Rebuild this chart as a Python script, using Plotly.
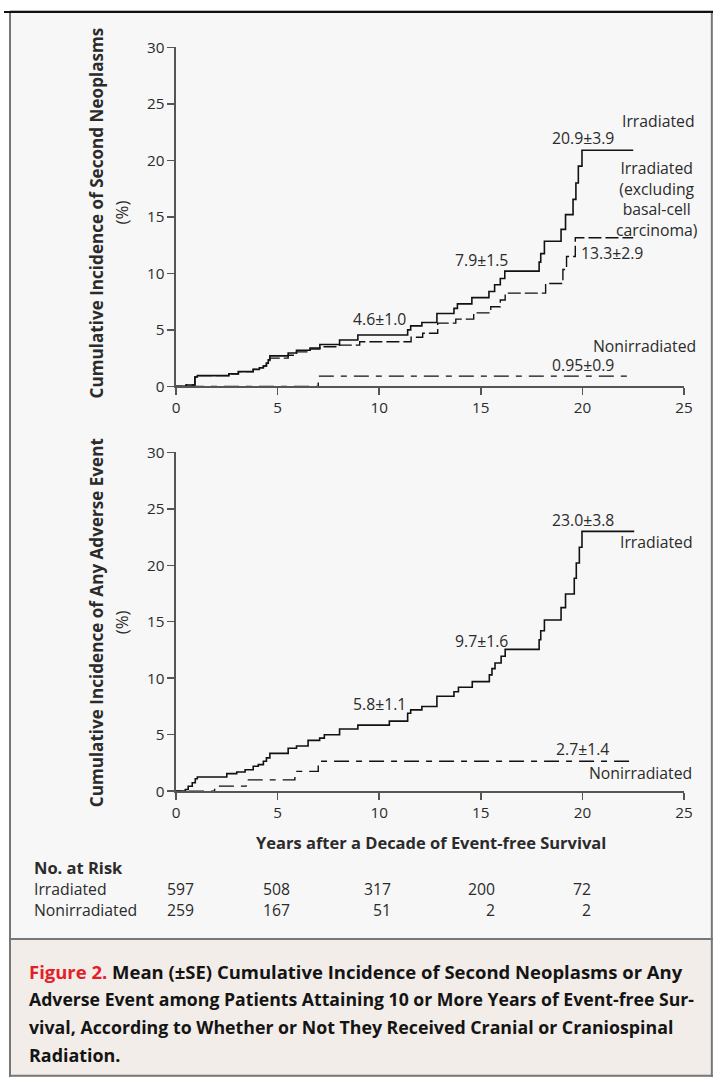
import plotly.graph_objects as go

# ---------------- data ----------------
# Top panel: cumulative incidence of second neoplasms (%)
sn_irr_t = [0, 0.5, 0.93, 1.05, 2.6, 3.07, 3.8, 4.1, 4.3, 4.45, 4.54, 4.62, 5.52, 5.93, 6.6, 7.08,
            8.05, 8.95, 11.4, 11.55, 12.1, 12.84, 13.68, 13.85, 14.56, 15.4, 15.68, 15.96, 16.18,
            17.87, 17.95, 18.13, 18.95, 19.17, 19.54, 19.68, 19.8, 19.98, 22.5]
sn_irr_v = [0, 0.12, 0.82, 0.95, 1.1, 1.3, 1.5, 1.65, 1.8, 2.05, 2.35, 2.7, 2.95, 3.2, 3.4, 3.7,
            4.1, 4.55, 5.0, 5.35, 5.65, 6.45, 6.9, 7.3, 7.85, 8.4, 9.0, 9.55, 10.2,
            11.0, 11.75, 12.85, 13.9, 15.2, 16.55, 18.0, 19.5, 20.9, 20.9]

sn_irr_xbcc_t = [0, 0.5, 0.93, 1.05, 2.6, 3.07, 3.8, 4.1, 4.3, 4.45, 4.62, 5.52, 5.93, 6.6, 7.08,
                 8.05, 9.04, 11.57, 12.14, 12.88, 13.77, 14.65, 15.49, 15.96, 16.2, 18.19, 19.04,
                 19.22, 19.65, 22.5]
sn_irr_xbcc_v = [0, 0.12, 0.82, 0.95, 1.1, 1.3, 1.5, 1.65, 1.8, 2.05, 2.5, 2.75, 3.05, 3.3, 3.5,
                 3.65, 3.95, 4.35, 4.7, 5.6, 5.95, 6.5, 7.05, 7.65, 8.25, 9.1, 10.35,
                 11.5, 13.15, 13.15]

sn_nonirr_t = [0, 7.0, 22.2]
sn_nonirr_v = [0, 0.9, 0.9]

# Bottom panel: cumulative incidence of any adverse event (%)
ae_irr_t = [0, 0.46, 0.6, 0.8, 0.95, 1.05, 2.5, 2.99, 3.4, 3.8, 4.05, 4.3, 4.45, 4.62, 5.52, 5.93,
            6.5, 7.07, 7.3, 8.05, 8.95, 10.5, 11.4, 11.55, 12.1, 12.84, 13.68, 13.9, 14.58, 15.42,
            15.55, 15.7, 16.0, 16.2, 17.87, 17.95, 18.13, 18.95, 19.17, 19.6, 19.7, 19.85, 19.98, 22.55]
ae_irr_v = [0, 0.15, 0.44, 0.75, 1.1, 1.25, 1.55, 1.7, 1.9, 2.2, 2.35, 2.65, 2.95, 3.35, 3.8, 4.0,
            4.5, 4.7, 5.0, 5.5, 5.85, 6.2, 6.9, 7.2, 7.5, 8.4, 8.8, 9.2, 9.7, 10.3,
            10.85, 11.35, 11.95, 12.55, 13.4, 14.2, 15.15, 16.25, 17.45, 18.85, 20.2, 21.6, 23.0, 23.0]

ae_nonirr_t = [0, 1.9, 3.45, 5.85, 7.0, 22.5]
ae_nonirr_v = [0, 0.45, 1.0, 1.75, 2.65, 2.65]

x_ticks = [0, 5, 10, 15, 20, 25]
y_ticks = [0, 5, 10, 15, 20, 25, 30]

risk_years = [0, 5, 10, 15, 20]
risk_irr = [597, 508, 317, 200, 72]
risk_nonirr = [259, 167, 51, 2, 2]

# ---------------- layout helpers ----------------
W, H = 722, 1086
# the photographed page comes out slightly shrunk; positions below are given in
# picture pixels and converted to page pixels
S, OX, OY = 0.982, 5.0, 10.5
FONT = "Open Sans"
TXT = "#2b2b2b"
AX = "#555555"


def fs(size):
    return size / S


def px(x):
    return min(max((x - OX) / S, 0), W) / W


def py(y):
    return 1 - min(max((y - OY) / S, 0), H) / H


fig = go.Figure()

solid = dict(color="#111111", width=1.6)
dash_bcc = dict(color="#111111", width=1.4, dash="13px,4px")
dash_non = dict(color="#111111", width=1.4, dash="6px,7px,15px,7px")

fig.add_trace(go.Scatter(x=sn_irr_t, y=sn_irr_v, mode="lines", line=solid, line_shape="hv",
                         xaxis="x", yaxis="y", showlegend=False))
fig.add_trace(go.Scatter(x=sn_irr_xbcc_t, y=sn_irr_xbcc_v, mode="lines", line=dash_bcc, line_shape="hv",
                         xaxis="x", yaxis="y", showlegend=False))
fig.add_trace(go.Scatter(x=sn_nonirr_t, y=sn_nonirr_v, mode="lines", line=dash_non, line_shape="hv",
                         xaxis="x", yaxis="y", showlegend=False))
fig.add_trace(go.Scatter(x=ae_irr_t, y=ae_irr_v, mode="lines", line=solid, line_shape="hv",
                         xaxis="x2", yaxis="y2", showlegend=False))
fig.add_trace(go.Scatter(x=ae_nonirr_t, y=ae_nonirr_v, mode="lines", line=dash_non, line_shape="hv",
                         xaxis="x2", yaxis="y2", showlegend=False))

xdom = [px(177), px(685)]
axis_common = dict(showgrid=False, zeroline=False, showline=True, linecolor=AX, linewidth=1.5,
                   ticks="outside", ticklen=7, tickwidth=1.5, tickcolor=AX,
                   tickfont=dict(family=FONT, size=fs(15), color=TXT), fixedrange=True)

fig.update_layout(
    width=W, height=H,
    margin=dict(l=0, r=0, t=0, b=0),
    paper_bgcolor="white",
    plot_bgcolor="rgba(0,0,0,0)",
    xaxis=dict(domain=xdom, range=[0, 25], tickvals=x_ticks, anchor="y", **axis_common),
    yaxis=dict(domain=[py(386), py(47)], range=[0, 30], tickvals=y_ticks, anchor="x", **axis_common),
    xaxis2=dict(domain=xdom, range=[0, 25], tickvals=x_ticks, anchor="y2", **axis_common),
    yaxis2=dict(domain=[py(791), py(452)], range=[0, 30], tickvals=y_ticks, anchor="x2", **axis_common),
)

shapes = [
    # panel background
    dict(type="rect", xref="paper", yref="paper", x0=px(11), x1=1, y0=py(939), y1=py(11),
         fillcolor="#f7f7f7", line=dict(width=0), layer="below"),
    # caption background
    dict(type="rect", xref="paper", yref="paper", x0=px(11), x1=1, y0=0, y1=py(939),
         fillcolor="#f2ede8", line=dict(width=0), layer="below"),
    # frame
    dict(type="line", xref="paper", yref="paper", x0=px(11), x1=1, y0=py(11), y1=py(11),
         line=dict(color="#777777", width=2)),
    dict(type="line", xref="paper", yref="paper", x0=px(11), x1=px(11), y0=0, y1=py(11),
         line=dict(color="#777777", width=2)),
    dict(type="line", xref="paper", yref="paper", x0=1 - 1.2 / W, x1=1 - 1.2 / W, y0=0, y1=py(11),
         line=dict(color="#777777", width=2)),
    dict(type="line", xref="paper", yref="paper", x0=px(11), x1=1, y0=1.2 / H, y1=1.2 / H,
         line=dict(color="#777777", width=2)),
    dict(type="line", xref="paper", yref="paper", x0=px(11), x1=1, y0=py(939), y1=py(939),
         line=dict(color="#777777", width=2)),
    # top rule
    dict(type="line", xref="paper", yref="paper", x0=0, x1=1, y0=1 - 1.0 / H, y1=1 - 1.0 / H,
         line=dict(color="#111111", width=2)),
]
fig.update_layout(shapes=shapes)

ann = []


def note(text, x, y, xref, yref, size=15.5, xanchor="center", yanchor="middle", bold=False,
         color=TXT, angle=0, align="center", xshift=0):
    if bold:
        text = "<b>" + text + "</b>"
    ann.append(dict(text=text, x=x, y=y, xref=xref, yref=yref, showarrow=False,
                    xanchor=xanchor, yanchor=yanchor, align=align, textangle=angle,
                    xshift=xshift / S,
                    font=dict(family=FONT, size=fs(size), color=color)))


# top panel labels (data coordinates)
note("Irradiated", 21.84, 23.5, "x", "y", xanchor="left")
note("20.9±3.9", 20.02, 22.0, "x", "y")
note("Irradiated<br>(excluding<br>basal-cell<br>carcinoma)", 23.65, 16.6, "x", "y")
note("13.3±2.9", 21.47, 11.8, "x", "y")
note("7.9±1.5", 15.02, 11.2, "x", "y")
note("4.6±1.0", 10.02, 5.94, "x", "y")
note("Nonirradiated", 23.04, 3.6, "x", "y")
note("0.95±0.9", 20.02, 1.9, "x", "y")

# bottom panel labels
note("23.0±3.8", 20.02, 24.0, "x2", "y2")
note("Irradiated", 23.67, 22.1, "x2", "y2")
note("9.7±1.6", 15.03, 13.3, "x2", "y2")
note("5.8±1.1", 10.0, 7.75, "x2", "y2")
note("2.7±1.4", 20.02, 3.76, "x2", "y2")
note("Nonirradiated", 22.86, 1.6, "x2", "y2")

# y-axis titles
note("Cumulative Incidence of Second Neoplasms", px(97), py(212), "paper", "paper", size=16.8, bold=True, angle=-90)
note("(%)", px(122), py(212), "paper", "paper", size=16.5, angle=-90)
note("Cumulative Incidence of Any Adverse Event", px(97), py(622), "paper", "paper", size=16.8, bold=True, angle=-90)
note("(%)", px(122), py(622), "paper", "paper", size=16.5, angle=-90)

# x-axis title
note("Years after a Decade of Event-free Survival", px(432), py(842), "paper", "paper", size=16.2, bold=True)

# numbers at risk
note("No. at Risk", px(33), py(867), "paper", "paper", size=16.2, bold=True, xanchor="left")
note("Irradiated", px(33), py(889), "paper", "paper", size=15.5, xanchor="left")
note("Nonirradiated", px(33), py(910), "paper", "paper", size=15.5, xanchor="left")
col_shift = [20, 14, 14, 16, 10]
for yr, a, b, s in zip(risk_years, risk_irr, risk_nonirr, col_shift):
    note(str(a), yr, py(889), "x2", "paper", size=15.5, xanchor="right", xshift=s)
    note(str(b), yr, py(910), "x2", "paper", size=15.5, xanchor="right", xshift=s)

# caption
cap_lines = [
    "<span style='color:#e3202a'>Figure 2.</span> Mean (±SE) Cumulative Incidence of Second Neoplasms or Any",
    "Adverse Event among Patients Attaining 10 or More Years of Event-free Sur-",
    "vival, According to Whether or Not They Received Cranial or Craniospinal",
    "Radiation.",
]
cap_sizes = [18.15, 17.35, 17.45, 17.6]
for line, yy, sz in zip(cap_lines, [971, 999, 1027, 1055], cap_sizes):
    note(line, px(28), py(yy), "paper", "paper", size=sz, bold=True, xanchor="left", color="#141414",
         align="left")

fig.update_layout(annotations=ann)

fig.write_html("out.html", config={"staticPlot": True},
               post_script="document.body.style.margin='0';document.body.style.overflow='hidden';")
